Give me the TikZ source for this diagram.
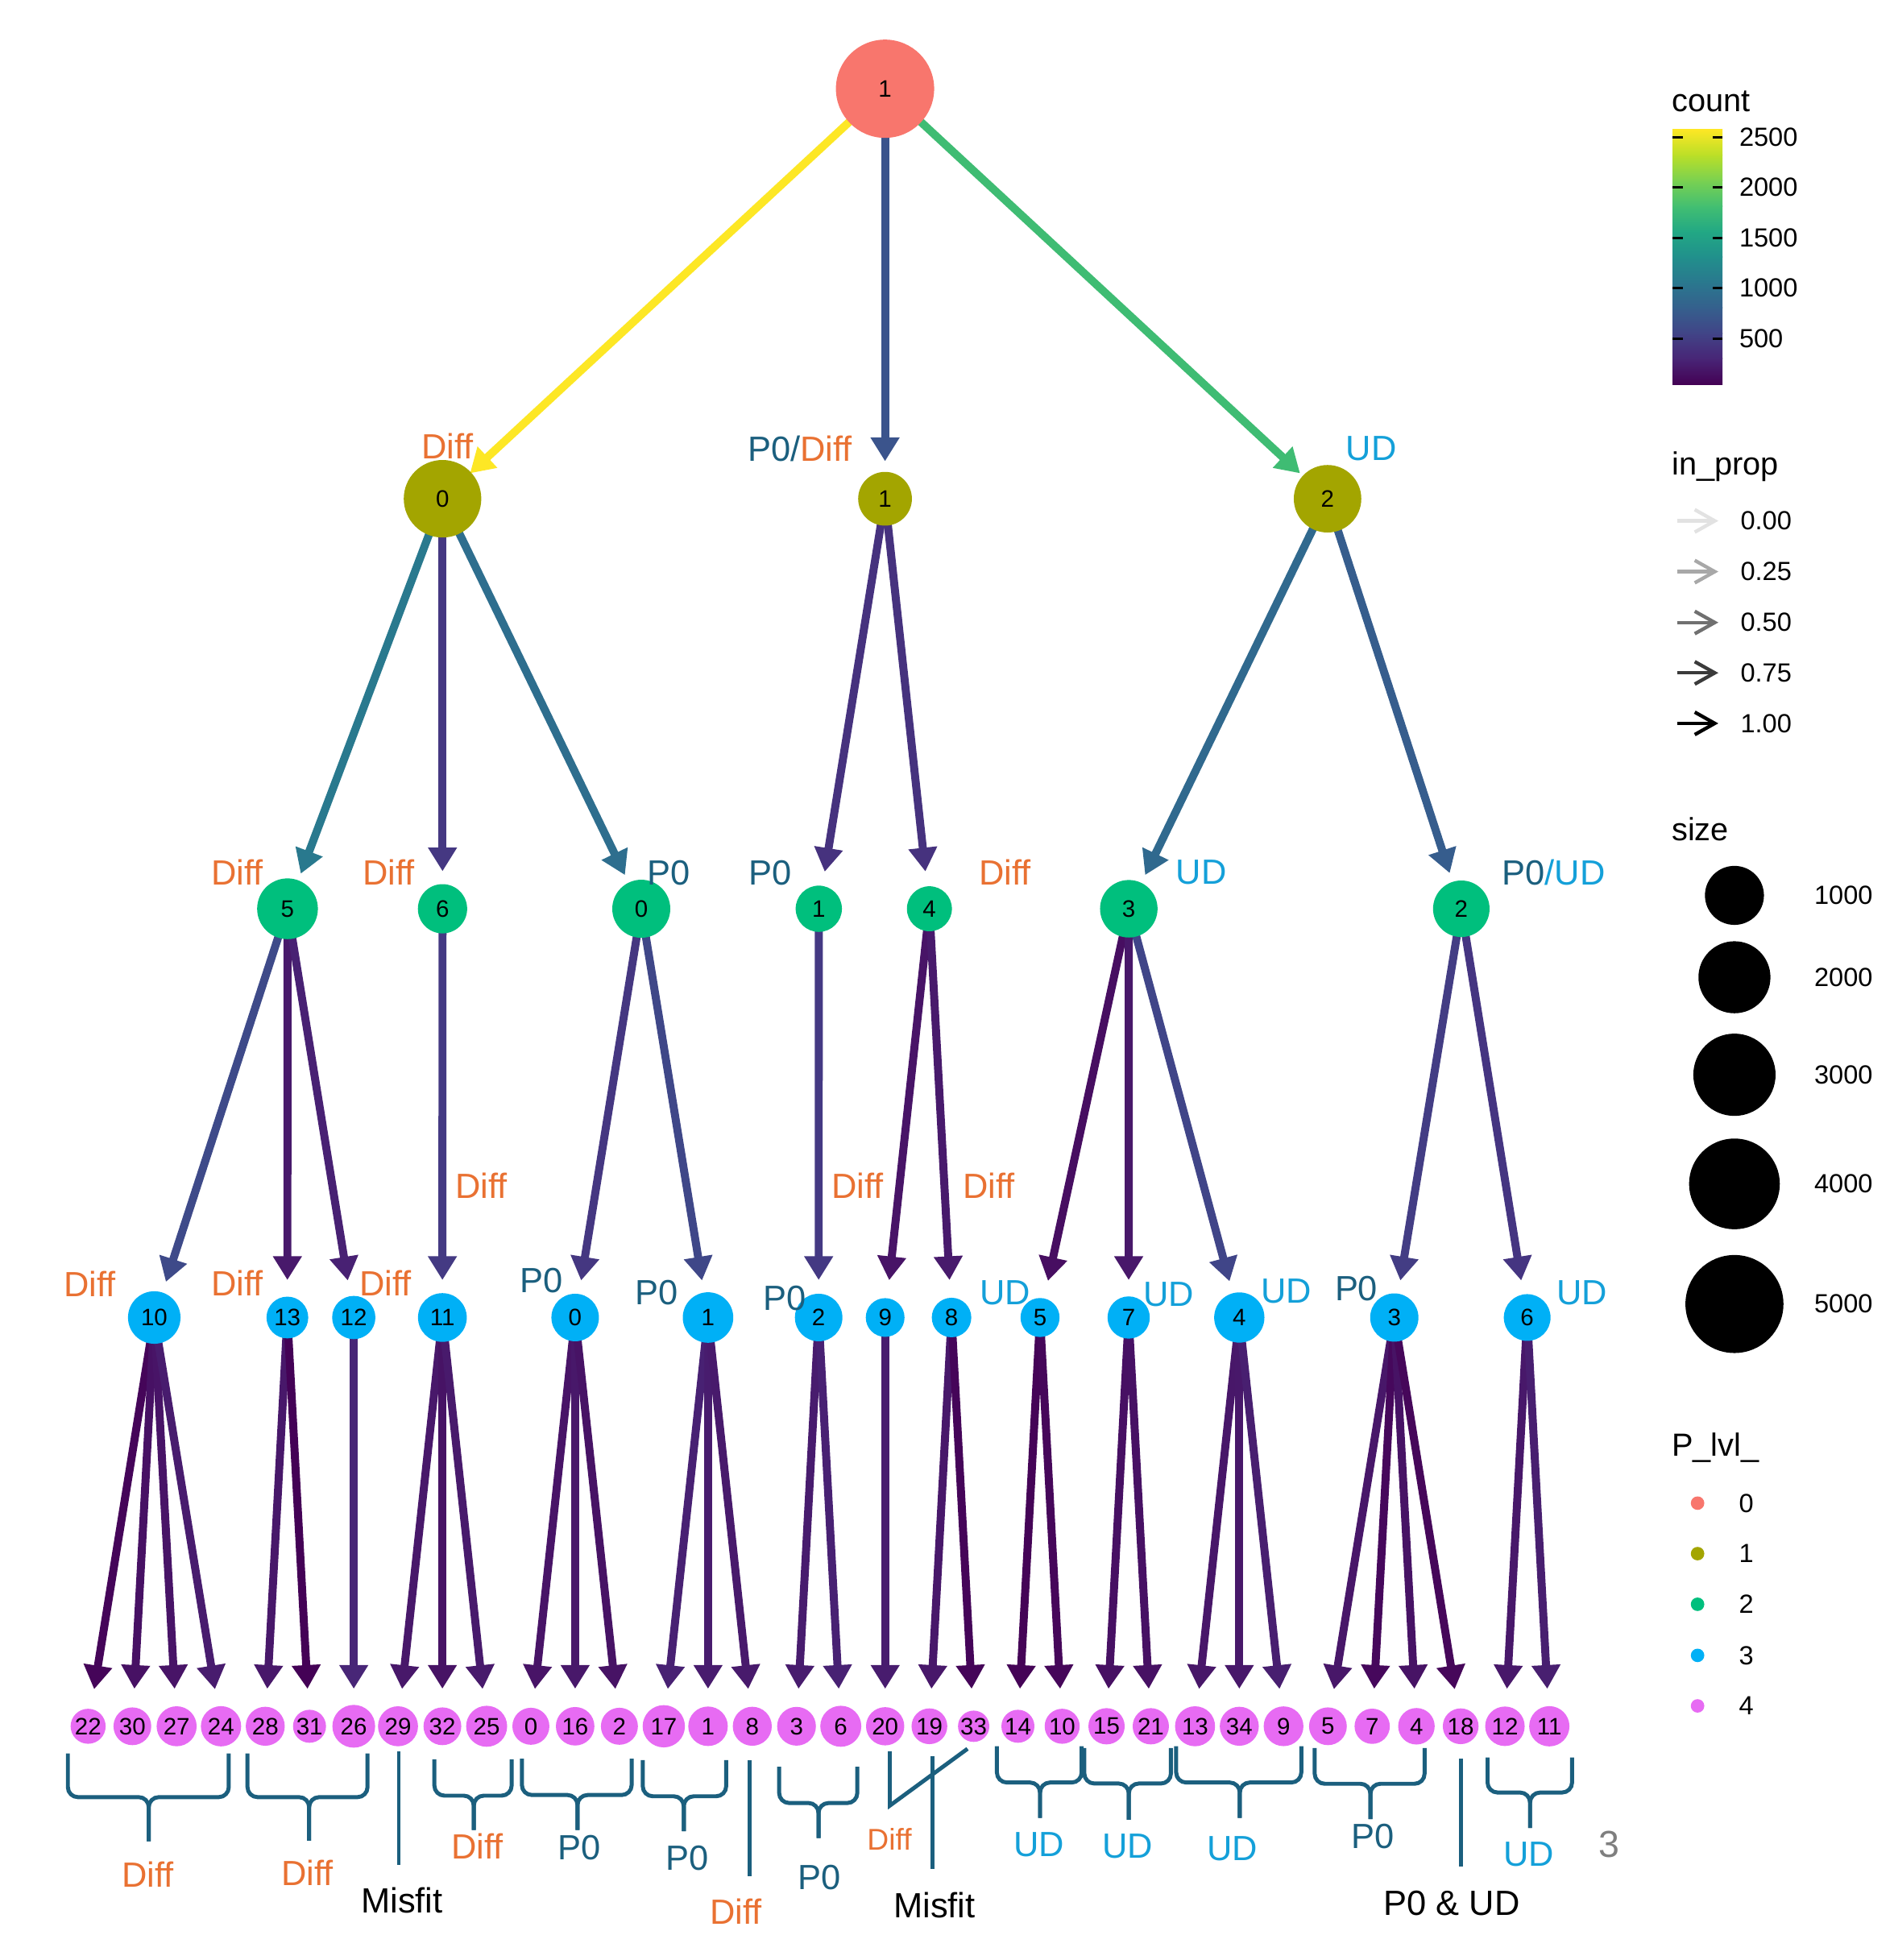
\documentclass[tikz,border=0pt]{standalone}
\usepackage{fontspec}
\setmainfont{Liberation Sans}
\usetikzlibrary{arrows.meta,calc,backgrounds}
\definecolor{lv0}{HTML}{F8766D}
\definecolor{lv1}{HTML}{A3A500}
\definecolor{lv2}{HTML}{00BF7D}
\definecolor{lv3}{HTML}{00B0F6}
\definecolor{lv4}{HTML}{E76BF3}
\definecolor{diffc}{HTML}{E97132}
\definecolor{pzc}{HTML}{1B5F7E}
\definecolor{udc}{HTML}{14A0D9}
\definecolor{brc}{HTML}{1B5F7E}
\definecolor{gry}{HTML}{7F7F7F}
\definecolor{v0}{HTML}{440154}
\definecolor{v1}{HTML}{482576}
\definecolor{v2}{HTML}{414487}
\definecolor{v3}{HTML}{35608D}
\definecolor{v4}{HTML}{2A788E}
\definecolor{v5}{HTML}{21908C}
\definecolor{v6}{HTML}{22A884}
\definecolor{v7}{HTML}{43BF71}
\definecolor{v8}{HTML}{7AD151}
\definecolor{v9}{HTML}{BBDF27}
\definecolor{v10}{HTML}{FDE725}
\newcommand\myedge[3]{\definecolor{tmpc}{HTML}{#3}\draw[edge,color=tmpc] (#1.center) -- ($(#2.center)!15pt!(#1.center)$);}
\newcommand\mybrace[6]{\draw[brk] (#1,#4) -- (#1,#5) -- (#3,#5) -- (#3,#6);\draw[brk] (#2,#4) -- (#2,#5) -- (#3,#5) -- (#3,#6);}
\begin{document}
\begin{tikzpicture}[x=0.5pt,y=-0.5pt,
 nd/.style={circle,inner sep=0pt,font=\fontsize{9.5}{10}\selectfont},
 l0/.style={nd,fill=lv0},
 l1/.style={nd,fill=lv1},
 l2/.style={nd,fill=lv2},
 l3/.style={nd,fill=lv3},
 l4/.style={nd,fill=lv4},
 edge/.style={line width=3.2pt,-{Triangle[length=9.5pt,width=11pt]}},
 lab/.style={inner sep=0pt,font=\fontsize{14}{16}\selectfont},
 diff/.style={lab,text=diffc},
 pz/.style={lab,text=pzc},
 ud/.style={lab,text=udc},
 blk/.style={lab,text=black},
 brk/.style={draw=brc,line width=1.6pt,rounded corners=4pt},
 ltitle/.style={inner sep=0pt,anchor=west,font=\fontsize{12.8}{14}\selectfont},
 ltext/.style={inner sep=0pt,anchor=west,font=\fontsize{10.5}{12}\selectfont},
 tick/.style={line width=1pt,draw=black},
 larrow/.style={line width=1.4pt,-{Straight Barb[length=8pt,width=9pt]}},
 key/.style={circle,inner sep=0pt,fill=black}
]
\useasboundingbox (0,0) rectangle (1515,1568);

% ---------- level 0 / 1 / 2 ----------
\node[l0,minimum size=39.3pt] (r) at (708,71) {1};
\node[l1,minimum size=31pt] (a0) at (354,399) {0};
\node[l1,minimum size=21.5pt] (a1) at (708,399) {1};
\node[l1,minimum size=27pt] (a2) at (1062,399) {2};

\node[l2,minimum size=24.3pt] (b5) at (230,727) {5};
\node[l2,minimum size=19.7pt] (b6) at (354,727) {6};
\node[l2,minimum size=23.2pt] (b0) at (513,727) {0};
\node[l2,minimum size=18.5pt] (b1) at (655,727) {1};
\node[l2,minimum size=18pt] (b4) at (743.5,727) {4};
\node[l2,minimum size=23pt] (b3) at (903,727) {3};
\node[l2,minimum size=22.6pt] (b2) at (1169,727) {2};

% ---------- level 3 ----------
\node[l3,minimum size=21pt] (c10) at (123.4,1054) {10};
\node[l3,minimum size=16.7pt] (c13) at (229.9,1054) {13};
\node[l3,minimum size=17.3pt] (c12) at (283,1054) {12};
\node[l3,minimum size=19.5pt] (c11) at (353.9,1054) {11};
\node[l3,minimum size=19pt] (c0) at (460.1,1054) {0};
\node[l3,minimum size=20.2pt] (c1) at (566.4,1054) {1};
\node[l3,minimum size=19pt] (c2) at (654.9,1054) {2};
\node[l3,minimum size=15.5pt] (c9) at (708.1,1054) {9};
\node[l3,minimum size=15.8pt] (c8) at (761.2,1054) {8};
\node[l3,minimum size=15.6pt] (c5) at (832,1054) {5};
\node[l3,minimum size=16.9pt] (c7) at (902.9,1054) {7};
\node[l3,minimum size=20.1pt] (c4) at (991.4,1054) {4};
\node[l3,minimum size=19.3pt] (c3) at (1115.4,1054) {3};
\node[l3,minimum size=18.7pt] (c6) at (1221.7,1054) {6};

% ---------- level 4 ----------
\node[l4,minimum size=14pt] (d22) at (70.5,1381) {22};
\node[l4,minimum size=15.1pt] (d30) at (105.9,1381) {30};
\node[l4,minimum size=16pt] (d27) at (141.3,1381) {27};
\node[l4,minimum size=16.1pt] (d24) at (176.8,1381) {24};
\node[l4,minimum size=15.6pt] (d28) at (212.2,1381) {28};
\node[l4,minimum size=13.2pt] (d31) at (247.6,1381) {31};
\node[l4,minimum size=17.1pt] (d26) at (283,1381) {26};
\node[l4,minimum size=16pt] (d29) at (318.4,1381) {29};
\node[l4,minimum size=15.1pt] (d32) at (353.9,1381) {32};
\node[l4,minimum size=16.4pt] (d25) at (389.3,1381) {25};
\node[l4,minimum size=14.8pt] (d0) at (424.7,1381) {0};
\node[l4,minimum size=15.4pt] (d16) at (460.1,1381) {16};
\node[l4,minimum size=14.8pt] (d2) at (495.5,1381) {2};
\node[l4,minimum size=16.9pt] (d17) at (531,1381) {17};
\node[l4,minimum size=15.8pt] (d1) at (566.4,1381) {1};
\node[l4,minimum size=15.6pt] (d8) at (601.8,1381) {8};
\node[l4,minimum size=15.5pt] (d3) at (637.2,1381) {3};
\node[l4,minimum size=16.4pt] (d6) at (672.6,1381) {6};
\node[l4,minimum size=15.3pt] (d20) at (708.1,1381) {20};
\node[l4,minimum size=14.3pt] (d19) at (743.5,1381) {19};
\node[l4,minimum size=10.5pt] (d33) at (778.9,1381) {33};
\node[l4,minimum size=13.2pt] (d14) at (814.3,1381) {14};
\node[l4,minimum size=14pt] (d10) at (849.7,1381) {10};
\node[l4,minimum size=14.5pt] (d15) at (885.2,1381) {15};
\node[l4,minimum size=14.5pt] (d21) at (920.6,1381) {21};
\node[l4,minimum size=16pt] (d13) at (956,1381) {13};
\node[l4,minimum size=15.6pt] (d34) at (991.4,1381) {34};
\node[l4,minimum size=15.9pt] (d9) at (1026.8,1381) {9};
\node[l4,minimum size=15.1pt] (d5) at (1062.3,1381) {5};
\node[l4,minimum size=14.1pt] (d7) at (1097.7,1381) {7};
\node[l4,minimum size=14.6pt] (d4) at (1133.1,1381) {4};
\node[l4,minimum size=14.3pt] (d18) at (1168.5,1381) {18};
\node[l4,minimum size=15.8pt] (d12) at (1203.9,1381) {12};
\node[l4,minimum size=16.1pt] (d11) at (1239.4,1381) {11};

% ---------- edges ----------
\begin{pgfonlayer}{background}
\fill[white] (0,0) rectangle (1515,1568);
\myedge{r}{a0}{FDE725}
\myedge{r}{a1}{3B548C}
\myedge{r}{a2}{3FBC73}
\myedge{a0}{b5}{29798E}
\myedge{a0}{b6}{453882}
\myedge{a0}{b0}{2E6E8E}
\myedge{a1}{b1}{46327E}
\myedge{a1}{b4}{46327E}
\myedge{a2}{b3}{30698E}
\myedge{a2}{b2}{365D8D}
\myedge{b5}{c10}{3E4A89}
\myedge{b5}{c13}{48196B}
\myedge{b5}{c12}{482173}
\myedge{b6}{c11}{443A83}
\myedge{b0}{c0}{453781}
\myedge{b0}{c1}{3F4788}
\myedge{b1}{c2}{443983}
\myedge{b4}{c9}{481467}
\myedge{b4}{c8}{481A6C}
\myedge{b3}{c5}{470E61}
\myedge{b3}{c7}{48186A}
\myedge{b3}{c4}{404588}
\myedge{b2}{c3}{433D84}
\myedge{b2}{c6}{453581}
\myedge{c10}{d22}{450559}
\myedge{c10}{d30}{471164}
\myedge{c10}{d27}{481467}
\myedge{c10}{d24}{481C6E}
\myedge{c13}{d28}{48186A}
\myedge{c13}{d31}{440256}
\myedge{c12}{d26}{482677}
\myedge{c11}{d29}{48186A}
\myedge{c11}{d32}{471365}
\myedge{c11}{d25}{481A6C}
\myedge{c0}{d0}{481467}
\myedge{c0}{d16}{48186A}
\myedge{c0}{d2}{471365}
\myedge{c1}{d17}{482173}
\myedge{c1}{d1}{481C6E}
\myedge{c1}{d8}{481A6C}
\myedge{c2}{d3}{481C6E}
\myedge{c2}{d6}{482173}
\myedge{c9}{d20}{481C6E}
\myedge{c8}{d19}{48186A}
\myedge{c8}{d33}{450559}
\myedge{c5}{d14}{450457}
\myedge{c5}{d10}{46075A}
\myedge{c7}{d15}{471063}
\myedge{c7}{d21}{471164}
\myedge{c4}{d13}{481769}
\myedge{c4}{d34}{48186A}
\myedge{c4}{d9}{481F70}
\myedge{c3}{d5}{481769}
\myedge{c3}{d7}{46085C}
\myedge{c3}{d4}{471365}
\myedge{c3}{d18}{46075A}
\myedge{c6}{d12}{48186A}
\myedge{c6}{d11}{481F70}
\end{pgfonlayer}

% ---------- edge labels ----------
\node[diff] (t1) at (358,357) {Diff};
\node[lab] (t2) at (640,359) {\textcolor{pzc}{P0/}\textcolor{diffc}{Diff}};
\node[ud] (t3) at (1097,359) {UD};

\node[diff] (t4) at (190,698) {Diff};
\node[diff] (t5) at (311,698) {Diff};
\node[pz] (t6) at (535,698) {P0};
\node[pz] (t7) at (616,698) {P0};
\node[diff] (t8) at (804,698) {Diff};
\node[ud] (t9) at (961,698) {UD};
\node[lab] (t10) at (1243,698) {\textcolor{pzc}{P0}\textcolor{udc}{/UD}};

\node[diff] (t11) at (72,1027) {Diff};
\node[diff] (t12) at (190,1026.6) {Diff};
\node[diff] (t13) at (308.4,1026.6) {Diff};
\node[diff] (t14) at (385,948.4) {Diff};
\node[pz] (t15) at (433.3,1024.6) {P0};
\node[pz] (t16) at (525,1034.3) {P0};
\node[pz] (t17) at (628,1038.6) {P0};
\node[diff] (t18) at (686,948.4) {Diff};
\node[diff] (t19) at (791,948.4) {Diff};
\node[ud] (t20) at (804,1034.3) {UD};
\node[ud] (t21) at (935,1035.4) {UD};
\node[ud] (t22) at (1029,1033) {UD};
\node[pz] (t23) at (1085,1031) {P0};
\node[ud] (t24) at (1265.6,1034.3) {UD};

% ---------- bottom brackets ----------
\mybrace{54.3}{183}{119}{1402.7}{1437.7}{1473}
\node[diff] (g1) at (118.4,1499.8) {Diff};
\mybrace{198}{294}{247.3}{1402.7}{1437.7}{1472.5}
\node[diff] (g2) at (246,1498.3) {Diff};
\draw[brk] (319,1401) -- (319,1491.8);
\node[blk] (g3) at (321.6,1520.4) {Misfit};
\mybrace{347.5}{409.3}{379}{1407.5}{1436.5}{1464}
\node[diff] (g4) at (382,1476.8) {Diff};
\mybrace{417.5}{505.3}{462}{1407}{1436}{1464}
\node[pz] (g5) at (463.5,1477.8) {P0};
\mybrace{514.2}{580.9}{547}{1408}{1437}{1465}
\node[pz] (g6) at (549.7,1486.5) {P0};
\draw[brk] (599.6,1408) -- (599.6,1501);
\node[diff] (g7) at (588.8,1529.3) {Diff};
\mybrace{623.3}{685.8}{654.8}{1413.4}{1442.4}{1470.4}
\node[pz] (g8) at (655.5,1502) {P0};
\draw[brk,rounded corners=0pt] (711.8,1401) -- (711.8,1444.5) -- (774,1399);
\node[diff,font=\fontsize{12}{14}\selectfont] (g9) at (711.5,1471) {Diff};
\draw[brk] (746,1405) -- (746,1495);
\node[blk] (g10) at (747.5,1524) {Misfit};
\mybrace{797.5}{865.3}{832}{1397}{1426}{1454.3}
\node[ud] (g11) at (831.3,1475.7) {UD};
\mybrace{867.4}{936.7}{903}{1398.4}{1426.8}{1455.7}
\node[ud] (g12) at (902,1476.8) {UD};
\mybrace{940.9}{1041}{991.8}{1397}{1426}{1454.3}
\node[ud] (g13) at (986,1479) {UD};
\mybrace{1051.7}{1139.6}{1096.3}{1398.4}{1427}{1455.3}
\node[pz] (g14) at (1098,1469.3) {P0};
\draw[brk] (1168.5,1407) -- (1168.5,1493.3);
\node[blk] (g15) at (1161.3,1522.5) {P0 \& UD};
\mybrace{1190}{1257.6}{1224}{1406}{1434}{1462.4}
\node[ud] (g16) at (1223,1483.2) {UD};
\node[lab,text=gry,font=\fontsize{15}{17}\selectfont] (g17) at (1287.6,1475.7) {3};

% ---------- legend: count ----------
\node[ltitle] (lc) at (1337,81) {count};
\foreach \k/\ca/\cb in {0/v0/v1,1/v1/v2,2/v2/v3,3/v3/v4,4/v4/v5,5/v5/v6,6/v6/v7,7/v7/v8,8/v8/v9,9/v9/v10}{
  \pgfmathsetmacro\ya{307.6-20.36*\k}
  \pgfmathsetmacro\yb{307.6-20.36*(\k+1)-0.5}
  \shade[bottom color=\ca,top color=\cb] (1338,\ya) rectangle (1378,\yb);
}
\foreach \y/\t in {109.6/2500,149.9/2000,190.2/1500,230.5/1000,270.8/500}{
  \draw[tick] (1338,\y) -- (1346,\y) (1370,\y) -- (1378,\y);
  \node[ltext] (lct\t) at (1391,\y) {\t};
}

% ---------- legend: in_prop ----------
\node[ltitle] (lp) at (1337,373) {in\_prop};
\foreach \y/\c/\t/\n in {416.7/E2E2E2/0.00/a,457.3/A8A8A8/0.25/b,498/707070/0.50/c,538.3/3B3B3B/0.75/d,578.7/000000/1.00/e}{
  \definecolor{tc}{HTML}{\c}
  \draw[larrow,color=tc] (1341.5,\y) -- (1374.6,\y);
  \node[ltext] (lpt\n) at (1392,\y) {\t};
}

% ---------- legend: size ----------
\node[ltitle] (ls) at (1337,663.5) {size};
\node[key,minimum size=23.6pt] (ls1) at (1387.5,716.3) {};
\node[key,minimum size=28.8pt] (ls2) at (1387.5,781.8) {};
\node[key,minimum size=32.9pt] (ls3) at (1387.5,859.8) {};
\node[key,minimum size=36.3pt] (ls4) at (1387.5,947.1) {};
\node[key,minimum size=39.2pt] (ls5) at (1387.5,1043.2) {};
\node[ltext] (lst1) at (1451,716.3) {1000};
\node[ltext] (lst2) at (1451,781.8) {2000};
\node[ltext] (lst3) at (1451,859.8) {3000};
\node[ltext] (lst4) at (1451,947.1) {4000};
\node[ltext] (lst5) at (1451,1043.2) {5000};

% ---------- legend: P_lvl_ ----------
\node[ltitle] (ll) at (1337,1158) {P\_lvl\_};
\foreach \y/\c/\t in {1202.5/lv0/0,1242.9/lv1/1,1283.4/lv2/2,1324.3/lv3/3,1364.7/lv4/4}{
  \node[circle,inner sep=0pt,fill=\c,minimum size=5.4pt] (lld\t) at (1358,\y) {};
  \node[inner sep=0pt,font=\fontsize{10.5}{12}\selectfont] (llt\t) at (1397,\y) {\t};
}
\end{tikzpicture}
\end{document}
